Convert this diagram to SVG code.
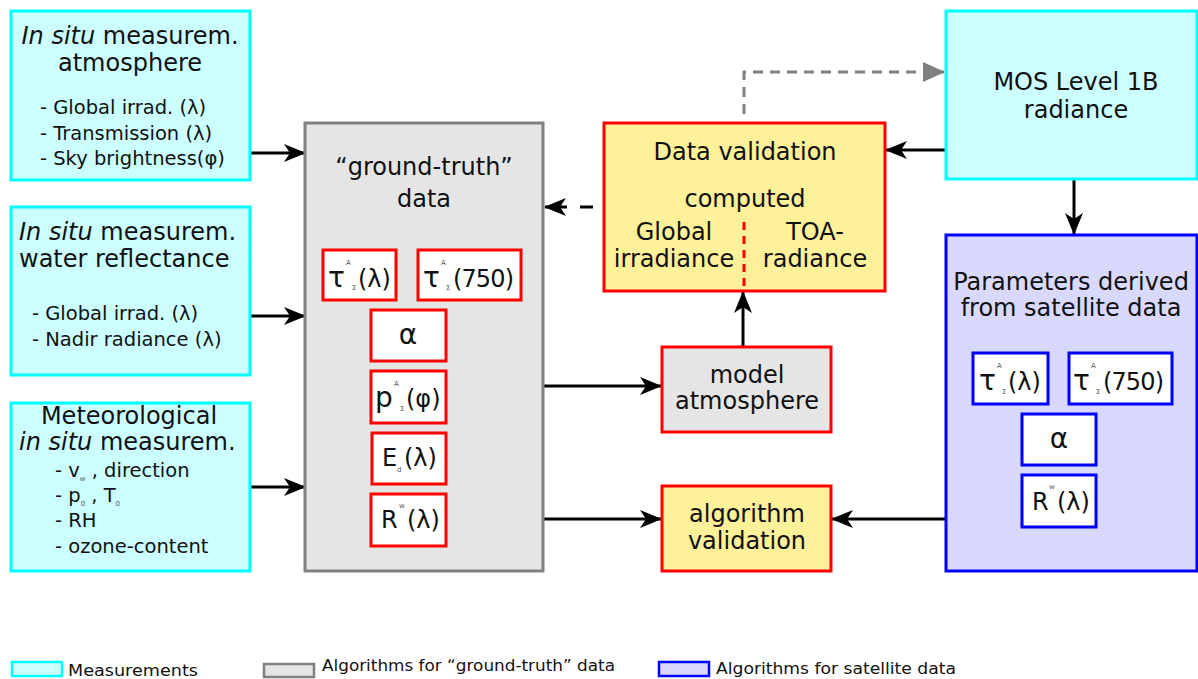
<svg xmlns="http://www.w3.org/2000/svg" width="1198" height="679" viewBox="0 0 1198 679">
<style>
text{font-family:"DejaVu Sans","Liberation Sans",sans-serif;fill:#111}
.t{font-size:24px}
.s{font-size:19.5px}
.c{text-anchor:middle}
.sym{font-size:24px}
.big{font-size:28px}
.tiny{font-size:7px;fill:#555}
.meas{fill:#ccffff;stroke:#00ffff;stroke-width:3}
.gt{fill:#e5e5e5;stroke:#808080;stroke-width:3}
.sat{fill:#d9d9ff;stroke:#0000ff;stroke-width:3}
.val{fill:#fff09a;stroke:#ff0000;stroke-width:3}
.redb{fill:#ffffff;stroke:#ff0000;stroke-width:3}
.blub{fill:#ffffff;stroke:#0000ff;stroke-width:3}
.con{stroke:#000;stroke-width:3;fill:none}
.leg{font-size:16px}
</style>
<defs>
<marker id="ah" markerUnits="userSpaceOnUse" markerWidth="22" markerHeight="18" refX="21" refY="9" orient="auto">
<path d="M0,0 L22,9 L0,18 L6,9 Z" fill="#000"/>
</marker>
<marker id="ahg" markerUnits="userSpaceOnUse" markerWidth="22" markerHeight="20" refX="21" refY="10" orient="auto">
<path d="M0,0 L22,10 L0,20 Z" fill="#808080"/>
</marker>
</defs>
<rect width="1198" height="679" fill="#fff"/>

<g id="connectors">
<line class="con" x1="250" y1="153" x2="305" y2="153" marker-end="url(#ah)"/>
<line class="con" x1="250" y1="316" x2="305" y2="316" marker-end="url(#ah)"/>
<line class="con" x1="250" y1="487" x2="305" y2="487" marker-end="url(#ah)"/>
<line class="con" x1="543" y1="386" x2="661" y2="386" marker-end="url(#ah)"/>
<line class="con" x1="543" y1="519" x2="661" y2="519" marker-end="url(#ah)"/>
<line class="con" x1="946" y1="519" x2="832" y2="519" marker-end="url(#ah)"/>
<line class="con" x1="743" y1="347" x2="743" y2="292" marker-end="url(#ah)"/>
<line class="con" x1="946" y1="150" x2="886" y2="150" marker-end="url(#ah)"/>
<line class="con" x1="1074" y1="180" x2="1074" y2="234" marker-end="url(#ah)"/>
<line class="con" x1="593" y1="207" x2="580" y2="207"/>
<line class="con" x1="567" y1="207" x2="545" y2="207" marker-end="url(#ah)"/>
<path d="M744,114 L744,72 L944,72" fill="none" stroke="#808080" stroke-width="3" stroke-dasharray="10,7" marker-end="url(#ahg)"/>
</g>

<g id="insitu-atmosphere">
<rect class="meas" x="11" y="11" width="239" height="169"/>
<text class="t c" x="130" y="44"><tspan font-style="italic">In situ</tspan> measurem.</text>
<text class="t c" x="130" y="71">atmosphere</text>
<text class="s" x="40" y="114">- Global irrad. (λ)</text>
<text class="s" x="40" y="140">- Transmission (λ)</text>
<text class="s" x="40" y="165">- Sky brightness(φ)</text>
</g>

<g id="insitu-water">
<rect class="meas" x="11" y="207" width="239" height="168"/>
<text class="t" x="19" y="240"><tspan font-style="italic">In situ</tspan> measurem.</text>
<text class="t" x="19" y="267">water reflectance</text>
<text class="s" x="32" y="320">- Global irrad. (λ)</text>
<text class="s" x="32" y="346">- Nadir radiance (λ)</text>
</g>

<g id="meteorological">
<rect class="meas" x="11" y="403" width="239" height="168"/>
<text class="t c" x="129" y="424">Meteorological</text>
<text class="t" x="19" y="450"><tspan font-style="italic">in situ</tspan> measurem.</text>
<text class="s" x="55" y="477">- v<tspan class="tiny" dy="4">w</tspan><tspan dy="-4"> , direction</tspan></text>
<text class="s" x="55" y="502">- p<tspan class="tiny" dy="4">0</tspan><tspan dy="-4"> , T</tspan><tspan class="tiny" dy="4">0</tspan></text>
<text class="s" x="55" y="527">- RH</text>
<text class="s" x="55" y="553">- ozone-content</text>
</g>

<g id="ground-truth">
<rect class="gt" x="305" y="123" width="238" height="448"/>
<text class="t c" x="424" y="175">“ground-truth”</text>
<text class="t c" x="424" y="207">data</text>
<rect class="redb" x="323" y="250" width="73" height="50"/>
<text class="big" x="328" y="287">τ</text>
<text class="tiny" x="346" y="265">A</text>
<text class="tiny" x="352" y="290">Σ</text>
<text class="sym" x="358" y="287">(λ)</text>
<rect class="redb" x="418" y="250" width="103" height="50"/>
<text class="big" x="423" y="287">τ</text>
<text class="tiny" x="441" y="265">A</text>
<text class="tiny" x="446" y="290">Σ</text>
<text class="sym" x="453" y="287" textLength="61">(750)</text>
<rect class="redb" x="371" y="310" width="75" height="51"/>
<text class="big c" x="408" y="344">α</text>
<rect class="redb" x="371" y="371" width="75" height="52"/>
<text class="big" x="375" y="407">p</text>
<text class="tiny" x="394" y="386">A</text>
<text class="tiny" x="400" y="411">Σ</text>
<text class="sym" x="406" y="407">(φ)</text>
<rect class="redb" x="372" y="433" width="74" height="51"/>
<text class="sym" x="382" y="466">E</text>
<text class="tiny" x="397" y="472">d</text>
<text class="sym" x="404" y="466">(λ)</text>
<rect class="redb" x="371" y="494" width="75" height="52"/>
<text class="sym" x="381" y="528">R</text>
<text class="tiny" x="399" y="508">w</text>
<text class="sym" x="407" y="528">(λ)</text>
</g>

<g id="data-validation">
<rect class="val" x="604" y="123" width="281" height="168"/>
<text class="t c" x="745" y="160">Data validation</text>
<text class="t c" x="745" y="207">computed</text>
<text class="t c" x="674" y="240">Global</text>
<text class="t c" x="674" y="267">irradiance</text>
<text class="t c" x="815" y="240">TOA-</text>
<text class="t c" x="815" y="267">radiance</text>
<line x1="744" y1="222" x2="744" y2="290" stroke="#ff0000" stroke-width="3" stroke-dasharray="8,6"/>
</g>

<g id="model-atmosphere">
<rect class="val" style="fill:#e5e5e5" x="662" y="347" width="169" height="85"/>
<text class="t c" x="747" y="383">model</text>
<text class="t c" x="747" y="409">atmosphere</text>
</g>

<g id="algorithm-validation">
<rect class="val" x="662" y="486" width="169" height="85"/>
<text class="t c" x="747" y="522">algorithm</text>
<text class="t c" x="747" y="549">validation</text>
</g>

<g id="mos">
<rect class="meas" x="946" y="11" width="251" height="168"/>
<text class="t c" x="1076" y="90">MOS Level 1B</text>
<text class="t c" x="1076" y="118">radiance</text>
</g>

<g id="satellite-params">
<rect class="sat" x="946" y="235" width="251" height="336"/>
<text class="t c" x="1071" y="290">Parameters derived</text>
<text class="t c" x="1071" y="316">from satellite data</text>
<rect class="blub" x="973" y="353" width="75" height="51"/>
<text class="big" x="979" y="390">τ</text>
<text class="tiny" x="997" y="368">A</text>
<text class="tiny" x="1002" y="394">Σ</text>
<text class="sym" x="1008" y="390">(λ)</text>
<rect class="blub" x="1069" y="353" width="103" height="51"/>
<text class="big" x="1073" y="390">τ</text>
<text class="tiny" x="1091" y="368">A</text>
<text class="tiny" x="1096" y="394">Σ</text>
<text class="sym" x="1103" y="390" textLength="61">(750)</text>
<rect class="blub" x="1022" y="414" width="74" height="51"/>
<text class="big c" x="1059" y="448">α</text>
<rect class="blub" x="1022" y="475" width="74" height="52"/>
<text class="sym" x="1032" y="510">R</text>
<text class="tiny" x="1049" y="489">w</text>
<text class="sym" x="1057" y="510">(λ)</text>
</g>

<g id="legend">
<rect class="meas" x="12" y="662" width="50" height="14" style="stroke-width:2.5"/>
<text class="leg" x="68" y="676" textLength="130" lengthAdjust="spacingAndGlyphs">Measurements</text>
<rect class="gt" x="264" y="664" width="50" height="13" style="stroke-width:2.5"/>
<text class="leg" x="322" y="671" textLength="293" lengthAdjust="spacingAndGlyphs">Algorithms for “ground-truth” data</text>
<rect class="sat" x="659" y="662" width="50" height="14" style="stroke-width:2.5"/>
<text class="leg" x="716" y="674" textLength="240" lengthAdjust="spacingAndGlyphs">Algorithms for satellite data</text>
</g>
</svg>
